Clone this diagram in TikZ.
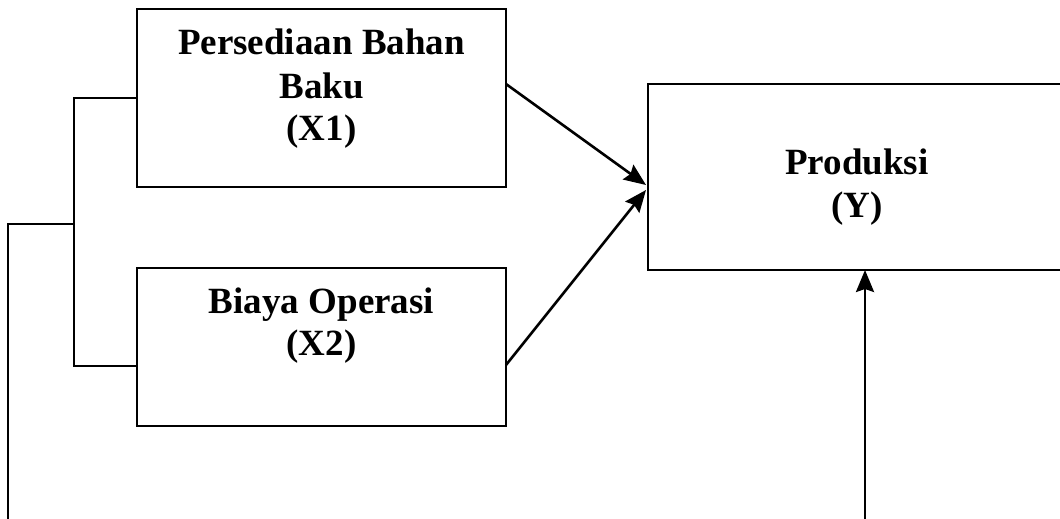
\documentclass[tikz,border=0pt]{standalone}
\usepackage{fontspec}
\setmainfont{Liberation Serif}
\usetikzlibrary{arrows.meta}

\begin{document}
\begin{tikzpicture}[x=1pt,y=-1pt,
  varbox/.style={draw,line width=2.4pt,rectangle,inner sep=0pt,outer sep=0pt},
  boxtext/.style={font=\fontsize{37}{43}\selectfont\bfseries,inner sep=0pt,anchor=base},
  link/.style={line width=2.2pt},
  flow/.style={line width=2.6pt,-{Stealth[length=22pt,width=18pt,inset=3pt]}}]
  \useasboundingbox (0,0) rectangle (1060,519);

  % variable boxes
  \node[varbox,minimum width=369pt,minimum height=178pt] (x1) at (321.5,98) {};
  \node[varbox,minimum width=369pt,minimum height=158pt] (x2) at (321.5,347) {};
  \node[varbox,minimum width=418pt,minimum height=186pt] (y) at (857,177) {};

  % box labels
  \node[boxtext] (x1a) at (321.5,55) {Persediaan Bahan};
  \node[boxtext] (x1b) at (321.5,98) {Baku};
  \node[boxtext] (x1c) at (321.5,140) {(X1)};
  \node[boxtext] (x2a) at (321.5,313) {Biaya Operasi};
  \node[boxtext] (x2b) at (321.5,355) {(X2)};
  \node[boxtext] (ya) at (857,174) {Produksi};
  \node[boxtext] (yb) at (857,217) {(Y)};

  % bracket joining X1 and X2, with its lead to the bottom edge
  \coordinate (b1) at (74,98);
  \coordinate (b2) at (74,366);
  \coordinate (bj) at (74,224);
  \coordinate (lc) at (8,224);
  \coordinate (le) at (8,519);
  \draw[link] (x1.west) -- (b1) -- (b2) -- (x2.west |- b2);
  \draw[link] (bj) -- (lc) -- (le);

  % arrows into Produksi
  \coordinate (s1) at (506,84);
  \coordinate (s2) at (506,365);
  \coordinate (t1) at (646,185);
  \coordinate (t2) at (646,190);
  \draw[flow] (s1) -- (t1);
  \draw[flow] (s2) -- (t2);
  \coordinate (up) at (865,519);
  \draw[flow] (up) -- (up |- y.south);
\end{tikzpicture}
\end{document}
